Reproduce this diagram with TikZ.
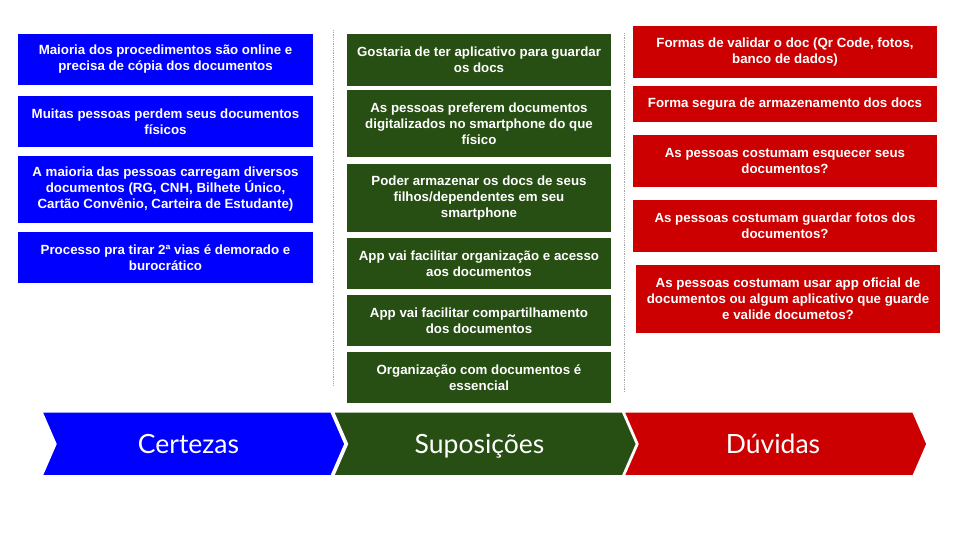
\documentclass[tikz,border=0pt]{standalone}
\usepackage{fontspec}
\setmainfont{Liberation Sans}
\newfontfamily\bannerfont{Lato}
\usepackage{tikz}
\usetikzlibrary{positioning,shapes.symbols}
\usepackage{xcolor}
\definecolor{certblue}{RGB}{0,0,255}
\definecolor{supgreen}{RGB}{39,78,19}
\definecolor{duvred}{RGB}{204,0,0}

\begin{document}
\begin{tikzpicture}[
    x=1pt, y=1pt,
    card/.style={rectangle, text=white, inner sep=2pt, outer sep=0pt, align=center, font=\bfseries\fontsize{13.3}{16}\selectfont},
    cert/.style={card, fill=certblue, minimum width=295pt},
    sup/.style={card, fill=supgreen, minimum width=264pt},
    duv/.style={card, fill=duvred, minimum width=304pt},
    banner/.style={signal, signal to=east, signal from=west, signal pointer angle=133, draw=white, line width=1.5pt, minimum width=303pt, minimum height=64pt, text=white, inner sep=0pt, outer sep=0pt, text height=19pt, text depth=0pt, font=\bannerfont\fontsize{26.5}{30}\selectfont},
    divider/.style={gray!70, densely dotted, line width=0.8pt}
]
    \useasboundingbox (0,0) rectangle (960,540);

    % Certezas
    \node[cert, minimum height=51pt, anchor=north] (online) at (165.5,506) {Maioria dos procedimentos são online e\\precisa de cópia dos documentos};
    \node[cert, minimum height=51pt, below=11pt of online] (perdem) {Muitas pessoas perdem seus documentos\\físicos};
    \node[cert, minimum height=67pt, below=9pt of perdem] (carregam) {A maioria das pessoas carregam diversos\\documentos (RG, CNH, Bilhete Único,\\Cartão Convênio, Carteira de Estudante)};
    \node[cert, minimum height=51pt, below=9pt of carregam] (vias) {Processo pra tirar 2ª vias é demorado e\\burocrático};

    % Suposicoes
    \node[sup, minimum height=52pt, anchor=north] (app) at (479,506) {Gostaria de ter aplicativo para guardar\\os docs};
    \node[sup, minimum height=67pt, below=4pt of app] (digital) {As pessoas preferem documentos\\digitalizados no smartphone do que\\físico};
    \node[sup, minimum height=68pt, below=7pt of digital] (filhos) {Poder armazenar os docs de seus\\filhos/dependentes em seu\\smartphone};
    \node[sup, minimum height=51pt, below=6pt of filhos] (organiz) {App vai facilitar organização e acesso\\aos documentos};
    \node[sup, minimum height=51pt, below=6pt of organiz] (compart) {App vai facilitar compartilhamento\\dos documentos};
    \node[sup, minimum height=51pt, below=6pt of compart] (essencial) {Organização com documentos é\\essencial};

    % Duvidas
    \node[duv, minimum height=52pt, anchor=north] (validar) at (785,514) {Formas de validar o doc (Qr Code, fotos,\\banco de dados)};
    \node[duv, minimum height=36pt, below=8pt of validar] (segura) {Forma segura de armazenamento dos docs};
    \node[duv, minimum height=52pt, below=13pt of segura] (esquecer) {As pessoas costumam esquecer seus\\documentos?};
    \node[duv, minimum height=52pt, below=13pt of esquecer] (fotos) {As pessoas costumam guardar fotos dos\\documentos?};
    \node[duv, minimum height=68pt, below=13pt of fotos, xshift=3pt] (oficial) {As pessoas costumam usar app oficial de\\documentos ou algum aplicativo que guarde\\e valide documetos?};

    % Dividers
    \draw[divider] (333,510) -- (333,155);
    \draw[divider] (624,507) -- (624,148);

    % Banners
    \node[banner, fill=certblue] (certezas) at (193.5,96) {\hspace*{-10pt}Certezas};
    \node[banner, fill=supgreen] (suposicoes) at (485,96) {\hspace*{-11pt}Suposições};
    \node[banner, fill=duvred] (duvidas) at (775.5,96) {\hspace*{-5pt}Dúvidas};
\end{tikzpicture}
\end{document}
